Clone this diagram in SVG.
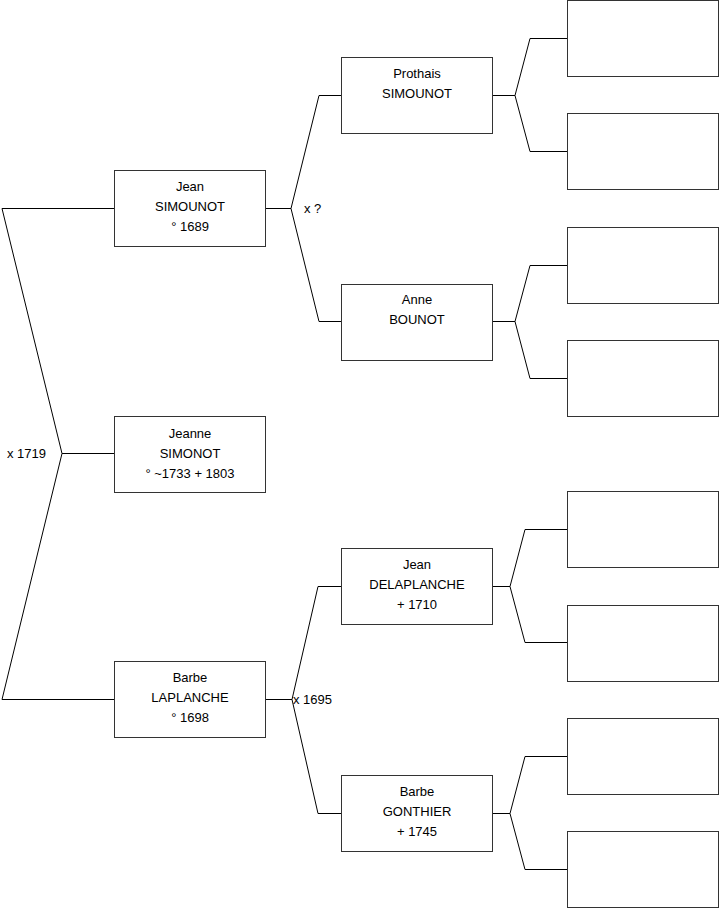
<svg xmlns="http://www.w3.org/2000/svg" width="719" height="908" viewBox="0 0 719 908">
<style>
.box{fill:#fff;stroke:#333;stroke-width:1}
.ln{fill:none;stroke:#000;stroke-width:1}
text{font-family:"Liberation Sans",Arial,sans-serif;font-size:13px;fill:#000}
.c{text-anchor:middle}
</style>
<rect width="719" height="908" fill="#fff"/>
<g id="connectors">
<polyline class="ln" points="114,208.5 2,208.5 62,453.5 2,699.5 114,699.5"/>
<line class="ln" x1="62" y1="453.5" x2="114" y2="453.5"/>
<polyline class="ln" points="341,95.5 319,95.5 291,208.5 319,321.5 341,321.5"/>
<line class="ln" x1="265" y1="208.5" x2="291" y2="208.5"/>
<polyline class="ln" points="341,586.5 318,586.5 292,699.5 318,813.5 341,813.5"/>
<line class="ln" x1="265" y1="699.5" x2="292" y2="699.5"/>
<polyline class="ln" points="567,38.5 530,38.5 515,95.5 530,151.5 567,151.5"/>
<line class="ln" x1="492" y1="95.5" x2="515" y2="95.5"/>
<polyline class="ln" points="567,265.5 530,265.5 515,321.5 530,378.5 567,378.5"/>
<line class="ln" x1="492" y1="321.5" x2="515" y2="321.5"/>
<polyline class="ln" points="567,529.5 525,529.5 510,586.5 525,642.5 567,642.5"/>
<line class="ln" x1="492" y1="586.5" x2="510" y2="586.5"/>
<polyline class="ln" points="567,756.5 525,756.5 510,813.5 525,869.5 567,869.5"/>
<line class="ln" x1="492" y1="813.5" x2="510" y2="813.5"/>
<text x="7" y="457.5">x 1719</text>
<text x="304" y="212.5">x ?</text>
<text x="293" y="703.5">x 1695</text>
</g>
<g id="n-jean">
<rect class="box" x="114.5" y="170.5" width="151" height="76"/>
<text class="c" x="190" y="191">Jean</text>
<text class="c" x="190" y="211">SIMOUNOT</text>
<text class="c" x="190" y="231">° 1689</text>
</g>
<g id="n-jeanne">
<rect class="box" x="114.5" y="416.5" width="151" height="76"/>
<text class="c" x="190" y="438">Jeanne</text>
<text class="c" x="190" y="458">SIMONOT</text>
<text class="c" x="190" y="478">° ~1733 + 1803</text>
</g>
<g id="n-barbe-l">
<rect class="box" x="114.5" y="661.5" width="151" height="76"/>
<text class="c" x="190" y="682">Barbe</text>
<text class="c" x="190" y="702">LAPLANCHE</text>
<text class="c" x="190" y="722">° 1698</text>
</g>
<g id="n-prothais">
<rect class="box" x="341.5" y="57.5" width="151" height="76"/>
<text class="c" x="417" y="78">Prothais</text>
<text class="c" x="417" y="98">SIMOUNOT</text>
</g>
<g id="n-anne">
<rect class="box" x="341.5" y="284.5" width="151" height="76"/>
<text class="c" x="417" y="304">Anne</text>
<text class="c" x="417" y="324">BOUNOT</text>
</g>
<g id="n-jean-d">
<rect class="box" x="341.5" y="548.5" width="151" height="76"/>
<text class="c" x="417" y="569">Jean</text>
<text class="c" x="417" y="589">DELAPLANCHE</text>
<text class="c" x="417" y="609">+ 1710</text>
</g>
<g id="n-barbe-g">
<rect class="box" x="341.5" y="775.5" width="151" height="76"/>
<text class="c" x="417" y="796">Barbe</text>
<text class="c" x="417" y="816">GONTHIER</text>
<text class="c" x="417" y="836">+ 1745</text>
</g>
<g id="n-e1"><rect class="box" x="567.5" y="0.5" width="151" height="76"/></g>
<g id="n-e2"><rect class="box" x="567.5" y="113.5" width="151" height="76"/></g>
<g id="n-e3"><rect class="box" x="567.5" y="227.5" width="151" height="76"/></g>
<g id="n-e4"><rect class="box" x="567.5" y="340.5" width="151" height="76"/></g>
<g id="n-e5"><rect class="box" x="567.5" y="491.5" width="151" height="76"/></g>
<g id="n-e6"><rect class="box" x="567.5" y="605.5" width="151" height="76"/></g>
<g id="n-e7"><rect class="box" x="567.5" y="718.5" width="151" height="76"/></g>
<g id="n-e8"><rect class="box" x="567.5" y="831.5" width="151" height="76"/></g>
</svg>
